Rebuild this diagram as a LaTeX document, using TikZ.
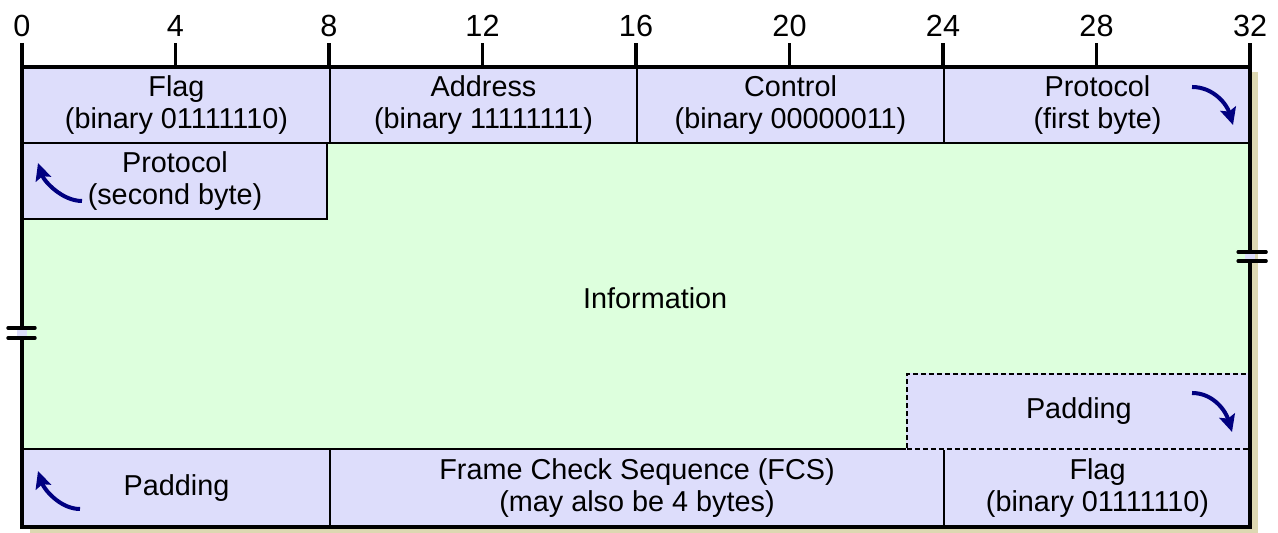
\documentclass[tikz,border=0pt]{standalone}
\usepackage{fontspec}
\setmainfont{Liberation Sans}
\usepackage{tikz}
\usetikzlibrary{arrows.meta}
\definecolor{FieldBlue}{RGB}{221,221,251}
\definecolor{InfoGreen}{RGB}{221,255,221}
\definecolor{ShadowTan}{RGB}{221,216,178}
\definecolor{ArrowNavy}{RGB}{0,0,128}
\tikzset{
  % Header field box
  field/.style={
    draw=black,
    line width=1pt,
    fill=FieldBlue,
    minimum height=37.5pt,
    inner sep=0pt,
    anchor=north west,
    align=center,
    font=\fontsize{14.4}{16}\selectfont
  },
  % Optional field (dashed)
  padbox/.style={
    dashed,
    dash pattern=on 2.5pt off 1.5pt,
    line width=0.8pt,
    preaction={draw=FieldBlue, solid, line width=1.2pt}
  },
  % Plain label
  plain/.style={inner sep=0pt, font=\fontsize{14.4}{16}\selectfont},
  % Bit numbers
  num/.style={anchor=base, inner sep=0pt, font=\fontsize{15.3}{16}\selectfont},
  % Outer frame
  frame/.style={draw=black, line width=1.7pt},
  % Break mark
  brk/.style={draw=black, line width=1.7pt, line cap=round},
  % Byte order arrow
  turn/.style={
    draw=ArrowNavy,
    line width=2pt,
    -{Stealth[length=8.5pt, width=8pt, inset=1.5pt]}
  }
}
\begin{document}
\begin{tikzpicture}[x=19.1875pt, y=0.5pt]
  \useasboundingbox (-0.5733,0) rectangle (32.7296,533);
  % Shadow and information area
  \fill[ShadowTan] (0.2085,0) rectangle (32.2085,461);
  \fill[InfoGreen] (0,391) rectangle (32,85);
  % First row
  \foreach \b/\name/\txt in {0/flagA/{Flag\\(binary 01111110)},
      8/addr/{Address\\(binary 11111111)},
      16/ctrl/{Control\\(binary 00000011)},
      24/protoA/{Protocol\\(first byte)}} {
    \node[field, minimum width=153.5pt] (\name) at (\b,466) {\txt};
  }
  % Second row
  \node[field, minimum width=152pt, minimum height=38pt] (protoB) at (0,391) {Protocol\\(second byte)};
  \node[plain] (info) at (16.5,235) {Information};
  % Last row
  \node[field, minimum width=153.5pt, minimum height=39.5pt] (padB) at (0,85) {Padding};
  \node[field, minimum width=307pt, minimum height=39.5pt] (fcs) at (8,85) {Frame Check Sequence (FCS)\\(may also be 4 bytes)};
  \node[field, minimum width=153.5pt, minimum height=39.5pt] (flagB) at (24,85) {Flag\\(binary 01111110)};
  \node[field, padbox, minimum width=171.9pt] (padA) at (23.04,160) {Padding};
  % Frame and bit scale
  \draw[frame] (0,490) -- (0,6) -- (32,6) -- (32,490);
  \draw[frame] (0,466) -- (32,466);
  \foreach \b in {0,4,...,32} {
    \draw[frame] (\b,466) -- (\b,490);
    \node[num] (n\b) at (\b,496) {\b};
  }
  % Break marks
  \fill[FieldBlue] (-0.12,195) rectangle (0.12,205);
  \draw[brk] (-0.365,205) -- (0.34,205) (-0.365,195) -- (0.34,195);
  \fill[FieldBlue] (31.88,272) rectangle (32.12,281);
  \draw[brk] (31.69,281) -- (32.42,281) (31.69,272) -- (32.42,272);
  % Byte order arrows
  \coordinate (t1) at (30.489,446);  \coordinate (h1) at (31.557,408);
  \coordinate (t2) at (1.5635,332);  \coordinate (h2) at (0.4169,370);
  \coordinate (t3) at (30.489,140);  \coordinate (h3) at (31.531,101);
  \coordinate (t4) at (1.5114,24);   \coordinate (h4) at (0.4169,62);
  \draw[turn] (t1) .. controls (31.062,446) and (31.401,428) .. (h1);
  \draw[turn] (t2) .. controls (1.0423,332) and (0.5733,352) .. (h2);
  \draw[turn] (t3) .. controls (31.062,140) and (31.375,121) .. (h3);
  \draw[turn] (t4) .. controls (0.9902,24) and (0.5733,44) .. (h4);
\end{tikzpicture}
\end{document}
